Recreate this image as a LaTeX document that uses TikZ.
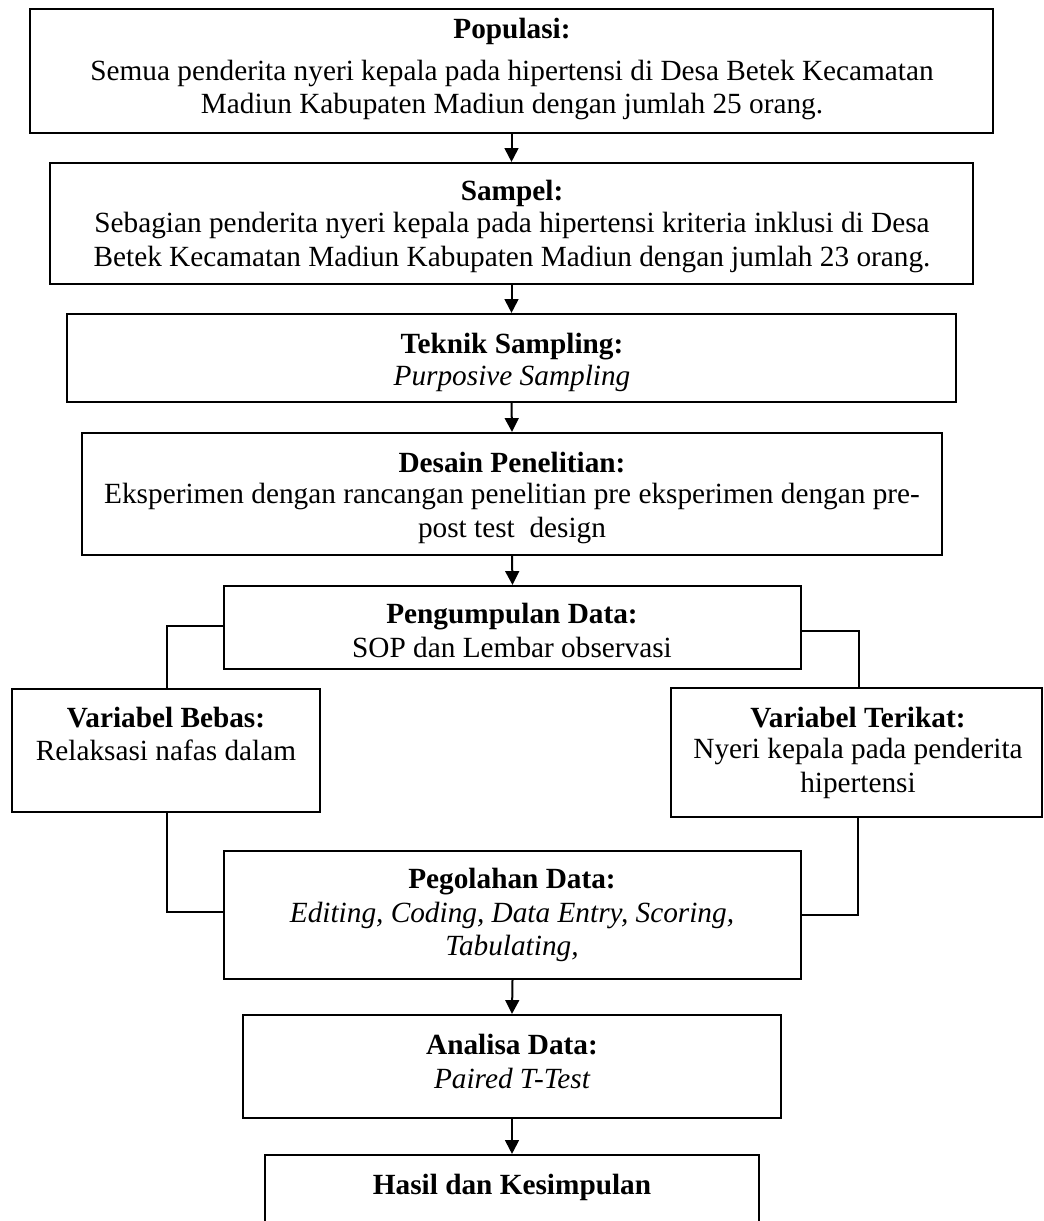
\documentclass[tikz,border=0pt]{standalone}
\usepackage{fontspec}
\setmainfont{Liberation Serif}
\usetikzlibrary{arrows.meta}
\begin{document}
\begin{tikzpicture}[x=0.42pt,y=-0.42pt,
  box/.style={draw, line width=0.9pt, inner sep=0pt},
  txt/.style={anchor=base, inner sep=0pt, font=\fontsize{12.3pt}{14pt}\selectfont},
  ttl/.style={txt, font=\fontsize{12.3pt}{14pt}\selectfont\bfseries},
  itx/.style={txt, font=\fontsize{12.3pt}{14pt}\selectfont\itshape},
  arr/.style={line width=0.84pt, -{Triangle[width=5.8pt,length=5.8pt]}},
  link/.style={line width=0.45pt}]
\clip (0,0) rectangle (1043,1221);
\fill[white] (0,0) rectangle (1043,1221);
% boxes
\node[box, minimum width=404.46pt, minimum height=52.08pt] (pop) at (511.5,71) {};
\node[box, minimum width=387.66pt, minimum height=50.82pt] (samp) at (511.5,223.5) {};
\node[box, minimum width=373.38pt, minimum height=36.96pt] (tek) at (511.5,358) {};
\node[box, minimum width=361.2pt, minimum height=51.24pt] (des) at (512,494) {};
\node[box, minimum width=242.34pt, minimum height=34.86pt] (pen) at (512.5,627.5) {};
\node[box, minimum width=129.36pt, minimum height=51.66pt] (beb) at (166,750.5) {};
\node[box, minimum width=155.82pt, minimum height=54.18pt] (ter) at (856.5,752.5) {};
\node[box, minimum width=242.34pt, minimum height=53.76pt] (peg) at (512.5,915) {};
\node[box, minimum width=225.96pt, minimum height=43.26pt] (ana) at (512,1066.5) {};
\node[box, minimum width=207.48pt, minimum height=39.9pt] (has) at (512,1202.5) {};
% texts
\node[ttl] (popT) at (512,39) {Populasi:};
\node[txt] (popA) at (512,81) {Semua penderita nyeri kepala pada hipertensi di Desa Betek Kecamatan};
\node[txt] (popB) at (512,114) {Madiun Kabupaten Madiun dengan jumlah 25 orang.};
\node[ttl] (sampT) at (512,201) {Sampel:};
\node[txt] (sampA) at (512,233) {Sebagian penderita nyeri kepala pada hipertensi kriteria inklusi di Desa};
\node[txt] (sampB) at (512,266) {Betek Kecamatan Madiun Kabupaten Madiun dengan jumlah 23 orang.};
\node[ttl] (tekT) at (512,353) {Teknik Sampling:};
\node[itx] (tekA) at (512,385) {Purposive Sampling};
\node[ttl] (desT) at (512,472) {Desain Penelitian:};
\node[txt] (desA) at (512,503) {Eksperimen dengan rancangan penelitian pre eksperimen dengan pre-};
\node[txt] (desB) at (512,537) {post test\ \ design};
\node[ttl] (penT) at (512,623) {Pengumpulan Data:};
\node[txt] (penA) at (512,657) {SOP dan Lembar observasi};
\node[ttl] (bebT) at (166,727) {Variabel Bebas:};
\node[txt] (bebA) at (166,760) {Relaksasi nafas dalam};
\node[ttl] (terT) at (858,727) {Variabel Terikat:};
\node[txt] (terA) at (858,758) {Nyeri kepala pada penderita};
\node[txt] (terB) at (858,792) {hipertensi};
\node[ttl] (pegT) at (512,888) {Pegolahan Data:};
\node[itx] (pegA) at (512,922) {Editing, Coding, Data Entry, Scoring,};
\node[itx] (pegB) at (512,955) {Tabulating,};
\node[ttl] (anaT) at (512,1054) {Analisa Data:};
\node[itx] (anaA) at (512,1088) {Paired T-Test};
\node[ttl] (hasT) at (512,1194) {Hasil dan Kesimpulan};
% arrows
\draw[arr] (pop.south) -- (samp.north);
\draw[arr] (samp.south) -- (tek.north);
\draw[arr] (tek.south) -- (des.north);
\draw[arr] (des.south) -- (pen.north);
\draw[arr] (peg.south) -- (ana.north);
\draw[arr] (ana.south) -- (has.north);
% side links
\coordinate (l1) at (167,626);
\coordinate (r1) at (859,631);
\coordinate (l2) at (167,912);
\coordinate (r2) at (858,915);
\draw[link] (pen.west |- l1) -- (l1) -- (l1 |- beb.north);
\draw[link] (pen.east |- r1) -- (r1) -- (r1 |- ter.north);
\draw[link] (l2 |- beb.south) -- (l2) -- (peg.west |- l2);
\draw[link] (r2 |- ter.south) -- (r2) -- (peg.east |- r2);
\end{tikzpicture}
\end{document}
